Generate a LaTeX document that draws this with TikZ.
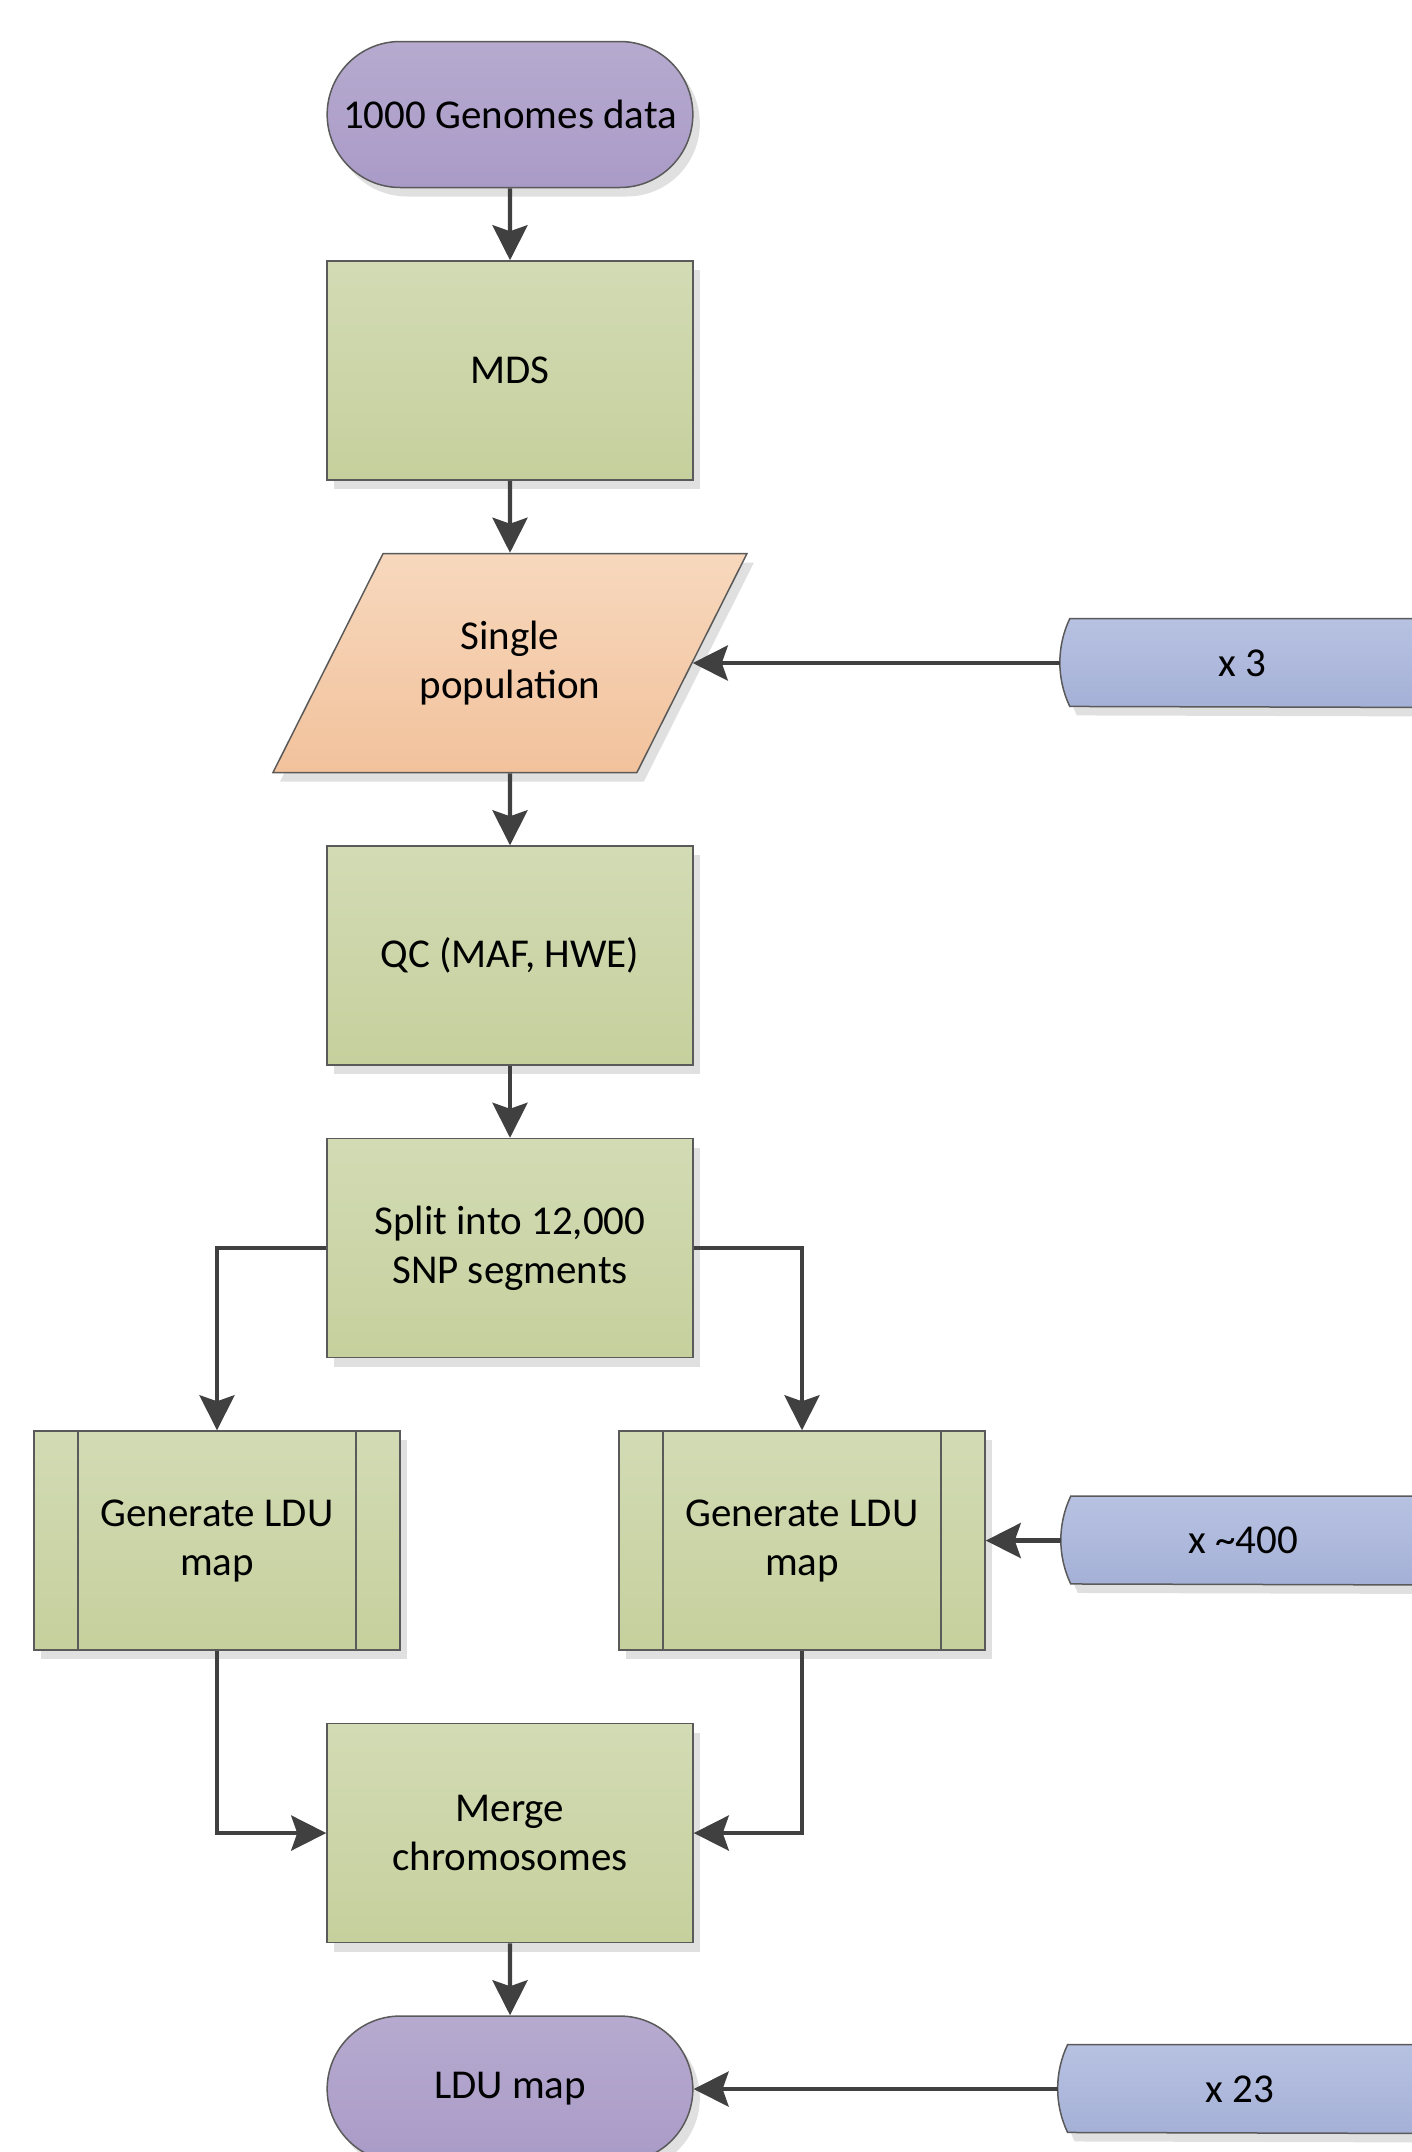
\documentclass[tikz,border=0pt]{standalone}
\usepackage{fontspec}
\setmainfont{Carlito}
\usepackage{xcolor}
\usepackage{tikz}
\usetikzlibrary{arrows.meta, positioning, shapes.geometric, shapes.misc, shadows, backgrounds}

\definecolor{termtop}{RGB}{183,170,207}
\definecolor{termbot}{RGB}{169,155,199}
\definecolor{proctop}{RGB}{210,219,180}
\definecolor{procbot}{RGB}{198,208,157}
\definecolor{datatop}{RGB}{247,216,189}
\definecolor{databot}{RGB}{242,194,156}
\definecolor{looptop}{RGB}{183,194,226}
\definecolor{loopbot}{RGB}{165,176,215}
\definecolor{lineclr}{RGB}{90,90,90}
\definecolor{arrowclr}{RGB}{64,64,64}

\begin{document}
\begin{tikzpicture}[
    x=0.5pt, y=-0.5pt,
    node distance=36pt and 37.5pt,
    font=\fontsize{20.5}{24.5}\selectfont,
    softshadow/.style={drop shadow={shadow xshift=3.5pt, shadow yshift=-4.5pt, fill=black!12, opacity=1}},
    base/.style={draw=lineclr, line width=0.75pt, align=center, softshadow},
    term/.style={base, rounded rectangle, minimum width=189.5pt, minimum height=73pt, top color=termtop, bottom color=termbot},
    block/.style={base, rectangle, minimum width=183pt, minimum height=109.5pt, top color=proctop, bottom color=procbot},
    io/.style={base, trapezium, trapezium left angle=41.5, trapezium right angle=138.5, trapezium stretches body,
        minimum width=237pt, minimum height=109.5pt, top color=datatop, bottom color=databot},
    subproc/.style={block, path picture={
        \draw[lineclr, line width=0.75pt] ([xshift=22pt]path picture bounding box.north west) -- ([xshift=22pt]path picture bounding box.south west);
        \draw[lineclr, line width=0.75pt] ([xshift=-22pt]path picture bounding box.north east) -- ([xshift=-22pt]path picture bounding box.south east);}},
    loopbox/.style={minimum width=182pt, minimum height=44pt, inner sep=0pt},
    loopshape/.style={draw=lineclr, line width=0.75pt, top color=looptop, bottom color=loopbot, softshadow},
    arrow/.style={-{Stealth[length=17.5pt, width=17.5pt, inset=3pt]}, line width=2.2pt, draw=arrowclr},
]
\useasboundingbox (0,0) rectangle (1412,2152);

\node[term] (start) at (510,114.5) {1000 Genomes data};
\node[block, below=of start] (mds) {MDS};
\node[io, below=of mds] (pop) {Single\\population};
\node[block, below=of pop] (qc) {QC (MAF, HWE)};
\node[block, below=of qc] (split) {Split into 12,000\\SNP segments};
\node[subproc, below=of split, xshift=-146.5pt] (genl) {Generate LDU\\map};
\node[subproc, below=of split, xshift=146pt] (genr) {Generate LDU\\map};
\node[block, below=of genl, xshift=146.5pt] (merge) {Merge\\chromosomes};
\node[term, below=of merge] (ldu) {LDU map};

\node[loopbox, right=183.5pt of pop] (rep3) {x 3};
\node[loopbox, right=of genr] (rep400) {x \textasciitilde400};
\node[loopbox, right=182pt of ldu] (rep23) {x 23};

\begin{scope}[on background layer]
\foreach \r in {rep3, rep400, rep23}
  \path[loopshape] ([xshift=5pt]\r.north west) arc[start angle=154.5, end angle=205.5, radius=51pt]
    -- (\r.south east) -- (\r.north east) -- cycle;
\end{scope}

\draw[arrow] (start) -- (mds);
\draw[arrow] (mds) -- (pop);
\draw[arrow] (pop) -- (qc);
\draw[arrow] (qc) -- (split);
\draw[arrow] (split.west) -| (genl.north);
\draw[arrow] (split.east) -| (genr.north);
\draw[arrow] (genl.south) |- (merge.west);
\draw[arrow] (genr.south) |- (merge.east);
\draw[arrow] (merge) -- (ldu);
\draw[arrow] (rep3.west) -- (pop.east);
\draw[arrow] (rep400.west) -- (genr.east);
\draw[arrow] (rep23.west) -- (ldu.east);

\end{tikzpicture}
\end{document}
